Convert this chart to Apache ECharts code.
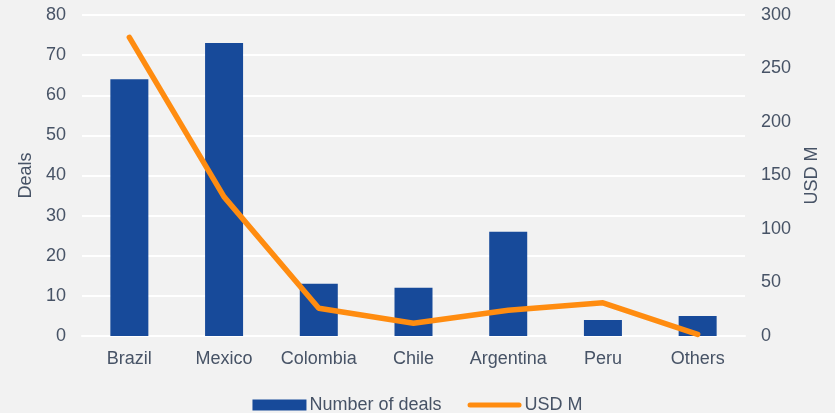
<!DOCTYPE html>
<html><head><meta charset="utf-8">
<script src="https://cdn.jsdelivr.net/npm/echarts@6/dist/echarts.min.js"></script>
<style>html,body{margin:0;padding:0;background:#f2f2f2}#c{width:835px;height:413px}</style>
</head><body><div id="c"></div>
<script>
const categories = ['Brazil','Mexico','Colombia','Chile','Argentina','Peru','Others'];
const deals = [64, 73, 13, 12, 26, 4, 5];
const usdM = [279, 130, 26, 12, 24, 31, 1.5];
const leftTicks = {min:0, max:80, interval:10};
const rightTicks = {min:0, max:300, interval:50};
const font = 'Liberation Sans, Arial, sans-serif';
const txt = '#475366';
const fs = 18;
const chart = echarts.init(document.getElementById('c'));
chart.setOption({
  backgroundColor:'#f2f2f2',
  animation:false,
  grid:{left:82, right:90, top:15, bottom:77},
  legend:{
    top:391, left:'center', itemGap:26, itemWidth:54, itemHeight:11,
    textStyle:{color:txt, fontSize:fs, fontFamily:font, padding:[0,0,0,-2]},
    data:[
      {name:'Number of deals', icon:'rect'},
      {name:'USD M', icon:'path://M2.5,0 L51.5,0 A2.5,2.5 0 0 1 51.5,5 L2.5,5 A2.5,2.5 0 0 1 2.5,0 Z'}
    ]
  },
  xAxis:{
    type:'category', data:categories,
    axisLine:{show:true, lineStyle:{color:'#ffffff', width:2}},
    axisTick:{show:false},
    axisLabel:{color:txt, fontSize:fs, fontFamily:font, margin:14, interval:0}
  },
  yAxis:[{
    type:'value', min:leftTicks.min, max:leftTicks.max, interval:leftTicks.interval,
    name:'Deals', nameLocation:'middle', nameGap:47, nameRotate:90,
    nameTextStyle:{color:txt, fontSize:fs, fontFamily:font},
    axisLabel:{color:txt, fontSize:fs, fontFamily:font, margin:16},
    splitLine:{lineStyle:{color:'#ffffff', width:2}},
    axisLine:{show:false}, axisTick:{show:false}
  },{
    type:'value', min:rightTicks.min, max:rightTicks.max, interval:rightTicks.interval,
    name:'USD M', nameLocation:'middle', nameGap:58, nameRotate:90,
    nameTextStyle:{color:txt, fontSize:fs, fontFamily:font},
    axisLabel:{color:txt, fontSize:fs, fontFamily:font, margin:16},
    splitLine:{show:false}, axisLine:{show:false}, axisTick:{show:false}
  }],
  series:[{
    name:'Number of deals', type:'bar', data:deals, barWidth:38,
    itemStyle:{color:'#174a9a'}
  },{
    name:'USD M', type:'line', yAxisIndex:1, data:usdM,
    symbol:'none', lineStyle:{color:'#ff8c10', width:5.5, cap:'round', join:'round'},
    itemStyle:{color:'#ff8c10'}
  }]
});
</script></body></html>
